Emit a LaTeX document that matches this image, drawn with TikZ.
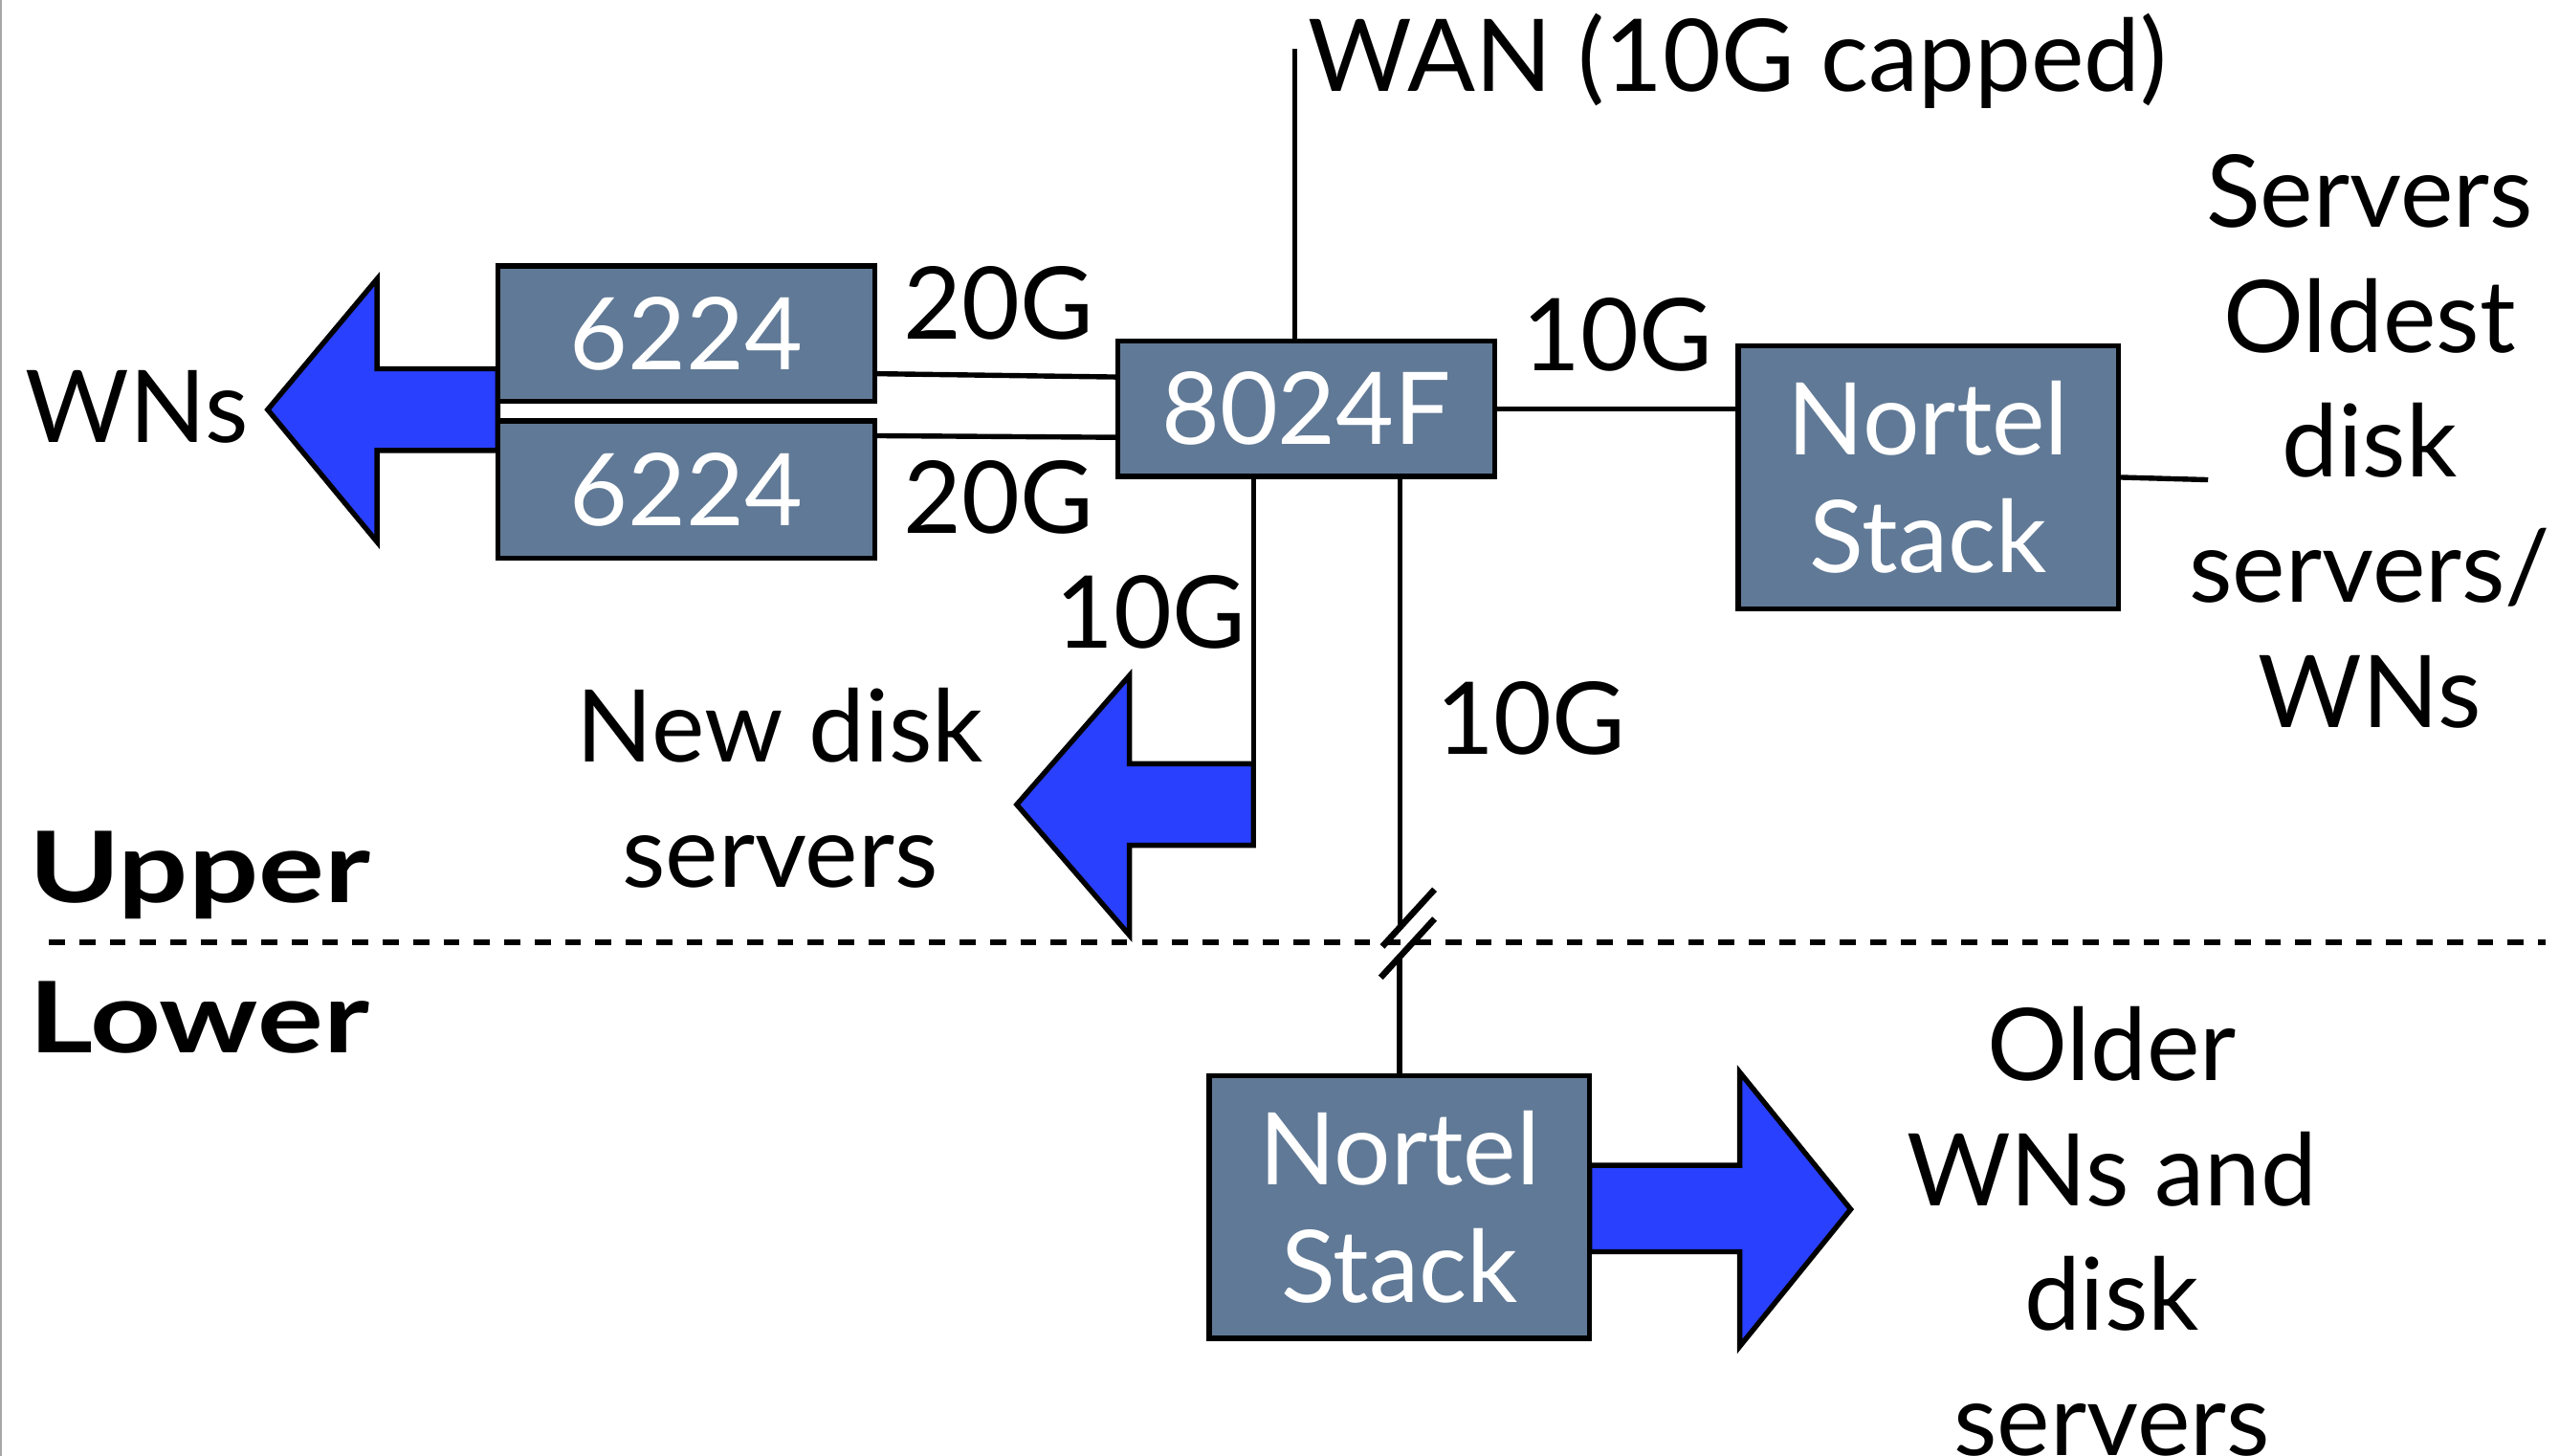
\documentclass[tikz,border=0pt]{standalone}
\usepackage{fontspec}
\setmainfont{Lato}
\newfontfamily\zonefont{Lato}[FakeStretch=1.25]
\usetikzlibrary{calc}
\definecolor{slate}{RGB}{96,121,150}
\definecolor{arrowblue}{RGB}{42,64,255}
\begin{document}
\begin{tikzpicture}[x=0.1mm,y=-0.1mm,
  lbl/.style={font=\fontsize{17.5}{21.8}\selectfont, inner sep=0pt, align=center},
  zone/.style={font=\zonefont\fontsize{17.2}{21.8}\selectfont\bfseries, inner sep=0pt},
  sbox/.style={draw=black, line width=0.9pt, fill=slate, text=white,
    font=\fontsize{17.5}{20.5}\selectfont, align=center, inner sep=0pt},
  wire/.style={line width=0.9pt},
  slash/.style={line width=1.1pt},
  bigarrow/.style={draw=black, line width=0.9pt, fill=arrowblue, line join=miter},
]
\useasboundingbox (0,0) rectangle (1568,892);
\draw[gray!70, line width=0.4pt] (0.6,0) -- (0.6,892);

% block arrows
\draw[bigarrow] (305,226) -- (231,226) -- (231,171) -- (164,251) -- (231,332) -- (231,276) -- (305,276) -- cycle;
\draw[bigarrow] (768,468) -- (692,468) -- (692,414) -- (623,493) -- (692,573) -- (692,518) -- (768,518) -- cycle;
\draw[bigarrow] (974,714) -- (1066,714) -- (1066,657) -- (1134,741) -- (1066,825) -- (1066,767) -- (974,767) -- cycle;

% switches
\node[sbox, minimum width=23.1mm, minimum height=8.3mm] (b1) at (420.5,204.5) {6224};
\node[sbox, minimum width=23.1mm, minimum height=8.4mm] (b2) at (420.5,300) {6224};
\node[sbox, minimum width=23.1mm, minimum height=8.3mm] (sw) at (800.5,250.5) {8024F};
\node[sbox, minimum width=23.3mm, minimum height=16.1mm] (n1) at (1181.5,292.5) {Nortel\\Stack};
\node[sbox, minimum width=23.3mm, minimum height=16.1mm] (n2) at (857.5,739.5) {Nortel\\Stack};

% free ends
\coordinate (wantop) at (793.5,30);
\coordinate (srv) at (1353,294);
\coordinate (nd) at (768,468);
\coordinate (brk) at (858,576);
\coordinate (dl) at (30,577.5);
\coordinate (dr) at (1560,577.5);

% wires
\draw[wire] ($(b1.east)+(0,24.5)$) -- ($(sw.west)+(0,-19.5)$);
\draw[wire] ($(b2.east)+(0,-33)$) -- ($(sw.west)+(0,17.5)$);
\draw[wire] (sw.east) -- (sw.east -| n1.west);
\draw[wire] (wantop |- sw.north) -- (wantop);
\draw[wire] (n1.east) -- (srv);
\draw[wire] (nd |- sw.south) -- (nd);
\draw[wire] (brk |- sw.south) -- ($(brk)+(0,-8)$);
\draw[wire] ($(n2.north |- brk)+(0,9)$) -- (n2.north);

% floor divider and break mark
\draw[line width=1.1pt, dash pattern=on 0.98mm off 0.88mm] (dl) -- (dr);
\draw[slash] ($(brk)+(-11,4)$) -- ($(brk)+(21,-31)$);
\draw[slash] ($(brk)+(-12,23)$) -- ($(brk)+(21,-13)$);

% labels
\node[lbl, anchor=base] (wns) at (84,271) {WNs};
\node[lbl, anchor=base] (g20a) at (612,208) {20G};
\node[lbl, anchor=base] (g20b) at (612,327) {20G};
\node[lbl, anchor=base] (g10a) at (991,227) {10G};
\node[lbl, anchor=base] (g10b) at (705,397) {10G};
\node[lbl, anchor=base] (g10c) at (938,462) {10G};
\node[lbl, anchor=base west] (wan) at (801,55.7) {WAN (10G capped)};
\node[lbl, anchor=north] (srvtxt) at (1452,94) {Servers\\Oldest\\disk\\servers/\\WNs};
\node[lbl, anchor=north] (newdisk) at (478,421) {New disk\\servers};
\node[lbl, anchor=north] (older) at (1294,616) {Older\\WNs and\\disk\\servers};
\node[zone, anchor=base west] (upper) at (17,553) {Upper};
\node[zone, anchor=base west] (lower) at (17,645) {Lower};
\end{tikzpicture}
\end{document}
